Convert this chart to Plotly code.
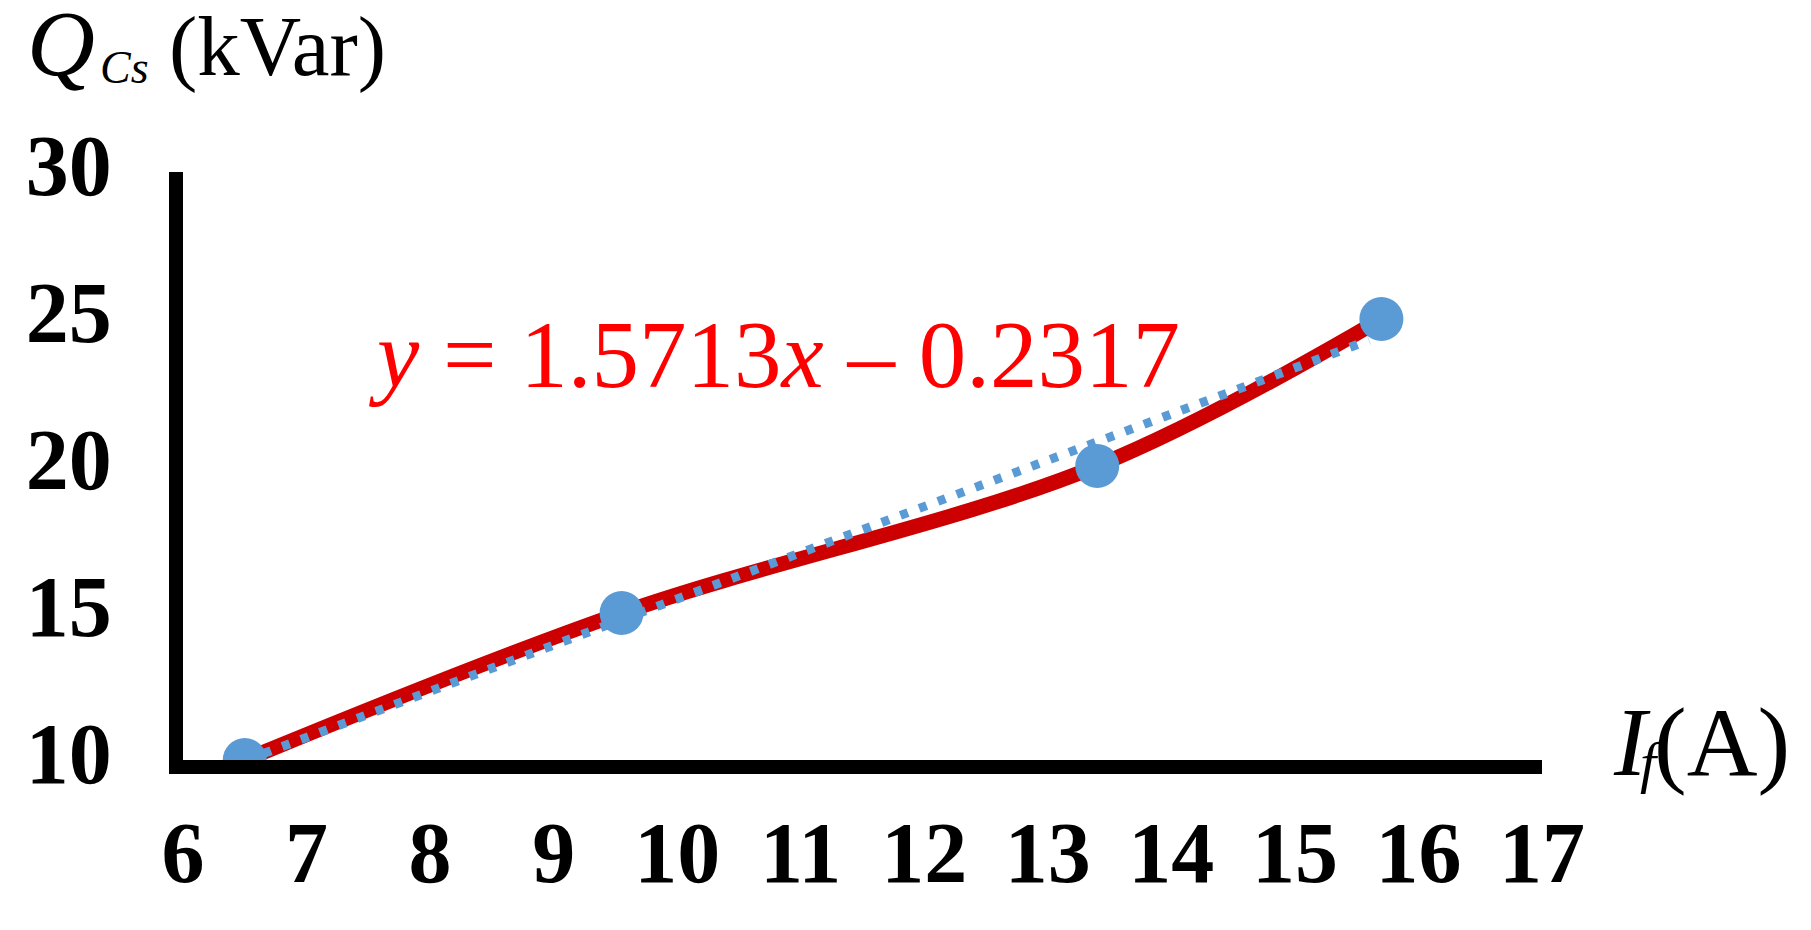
#!/usr/bin/env python3
import plotly.graph_objects as go

# measured points (field current vs reactive power)
current_a = [6.5, 9.55, 13.4, 15.7]
q_kvar = [10, 15, 20, 25]

# linear fit drawn as a dotted line (ends)
trend_x = [6.5, 15.6]
trend_y = [9.98, 24.28]

x_ticks = [6, 7, 8, 9, 10, 11, 12, 13, 14, 15, 16, 17]
y_ticks = [10, 15, 20, 25, 30]

SERIF = "Liberation Serif"
BLUE = "#5B9BD5"
RED = "#CC0000"


def main():
    fig = go.Figure()

    # smoothed red curve through the points
    fig.add_trace(go.Scatter(
        x=current_a, y=q_kvar,
        mode="lines",
        line=dict(color=RED, width=15, shape="spline"),
        hoverinfo="skip",
    ))
    # dotted trend line
    fig.add_trace(go.Scatter(
        x=trend_x, y=trend_y,
        mode="lines",
        line=dict(color=BLUE, width=9, dash="8px,12px"),
        hoverinfo="skip",
    ))
    # the markers
    fig.add_trace(go.Scatter(
        x=current_a, y=q_kvar,
        mode="markers",
        marker=dict(color=BLUE, size=44, line=dict(width=0)),
    ))

    tick_font = dict(family=SERIF, size=86, color="black", weight="bold")

    fig.update_layout(
        width=1811,
        height=930,
        showlegend=False,
        font=dict(family=SERIF, color="black"),
        plot_bgcolor="white",
        paper_bgcolor="white",
        margin=dict(l=183, r=269, t=172, b=170),
        xaxis=dict(
            range=[6, 17],
            tickvals=x_ticks,
            tickfont=tick_font,
            showgrid=False,
            zeroline=False,
            showline=True,
            linecolor="black",
            linewidth=14,
            ticks="",
            ticklabelstandoff=5,
        ),
        yaxis=dict(
            range=[10, 30],
            tickvals=y_ticks,
            tickfont=tick_font,
            showgrid=False,
            zeroline=False,
            showline=True,
            linecolor="black",
            linewidth=14,
            ticks="",
            ticklabelstandoff=40,
            ticklabelshift=-7,
        ),
    )

    def label(text, x, y, size, color="black", xanchor="left"):
        fig.add_annotation(
            text=text, x=x, y=y, xref="paper", yref="paper",
            xanchor=xanchor, yanchor="middle", showarrow=False,
            font=dict(family=SERIF, size=size, color=color, weight="normal"),
        )

    # y axis title: Q_Cs (kVar)
    label("<i>Q</i>", -0.1165, 1.22, 94)
    label("<i>Cs</i>", -0.0626, 1.178, 46)
    label("(kVar)", -0.0118, 1.213, 85)

    # x axis title: I_f(A)
    label("<i>I</i>", 1.0508, 0.031, 98)
    label("<i>f</i>", 1.071, -0.005, 58)
    label("(A)", 1.0809, 0.031, 98)

    # fit equation
    label("<i>y</i> = 1.5713<i>x</i> \u2013 0.2317", 0.1354, 0.688, 95, color="#FF0000")

    fig.write_html(
        "out.html",
        config={"displayModeBar": False},
        post_script="document.body.style.margin='0';document.body.style.overflow='hidden';",
    )


if __name__ == "__main__":
    main()
